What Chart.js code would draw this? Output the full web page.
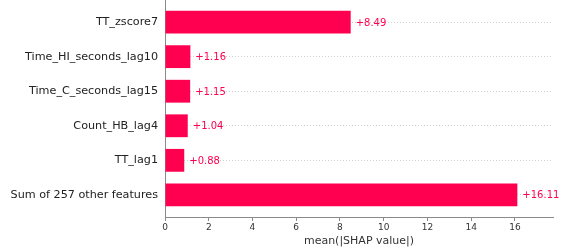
<!DOCTYPE html>
<html>
<head>
<meta charset="utf-8">
<script src="https://cdn.jsdelivr.net/npm/chart.js@4/dist/chart.umd.min.js"></script>
<style>
  html, body { margin: 0; padding: 0; background: #fff; }
  #wrap { width: 562px; height: 248px; }
</style>
</head>
<body>
<div id="wrap"><canvas id="shap"></canvas></div>
<script>
// feature names, top to bottom
const features = [
  "TT_zscore7",
  "Time_HI_seconds_lag10",
  "Time_C_seconds_lag15",
  "Count_HB_lag4",
  "TT_lag1",
  "Sum of 257 other features",
];
// mean(|SHAP value|) per feature
const shapValues = [8.49, 1.16, 1.15, 1.04, 0.88, 16.11];
// x axis ticks
const xTicks = [0, 2, 4, 6, 8, 10, 12, 14, 16];

const RED = "#ff0051";
const FONT = "'DejaVu Sans', sans-serif";

// writes "+8.49" etc just right of each bar end
const valueLabels = {
  id: "valueLabels",
  afterDatasetsDraw(chart) {
    const { ctx, scales } = chart;
    ctx.save();
    ctx.font = "10px " + FONT;
    ctx.fillStyle = RED;
    ctx.textAlign = "left";
    ctx.textBaseline = "middle";
    shapValues.forEach(function (v, i) {
      const x = scales.x.getPixelForValue(v) + 5;
      const y = scales.y.getPixelForValue(i);
      ctx.fillText("+" + v.toFixed(2), x, y + 1);
    });
    ctx.restore();
  },
};

new Chart(document.getElementById("shap"), {
  type: "bar",
  data: {
    datasets: [
      {
        data: shapValues.map(function (v, i) {
          return { x: v, y: i };
        }),
        backgroundColor: RED,
        borderWidth: 0,
        barPercentage: 0.66,
        categoryPercentage: 1,
      },
    ],
  },
  options: {
    indexAxis: "y",
    responsive: true,
    maintainAspectRatio: false,
    animation: false,
    layout: { padding: { top: 0, right: 9, bottom: 0, left: 0 } },
    plugins: { legend: { display: false }, tooltip: { enabled: false } },
    scales: {
      x: {
        type: "linear",
        min: 0,
        max: 17.74,
        afterBuildTicks: function (scale) {
          scale.ticks = xTicks.map(function (v) { return { value: v }; });
        },
        afterFit: function (scale) { scale.height = 31; },
        grid: { drawOnChartArea: false, drawTicks: true, tickLength: 4, color: "#8a8a8a" },
        border: { display: true, color: "#8a8a8a", width: 1 },
        ticks: { font: { family: FONT, size: 9 }, color: "#333", padding: 1, maxRotation: 0 },
        title: {
          display: true,
          text: "mean(|SHAP value|)",
          font: { family: FONT, size: 11 },
          color: "#333",
          padding: { top: 0, bottom: 0 },
        },
      },
      y: {
        type: "linear",
        reverse: true,
        offset: false,
        min: -0.64,
        max: 5.64,
        afterBuildTicks: function (scale) {
          scale.ticks = features.map(function (f, i) { return { value: i }; });
        },
        afterFit: function (scale) {
          scale.width = 165;
          scale.paddingTop = 0;
          scale.paddingBottom = 0;
        },
        grid: { offset: false, drawTicks: false, color: "#d0d0d0", lineWidth: 1 },
        border: { display: true, color: "#8a8a8a", width: 1, dash: [1, 2] },
        ticks: {
          font: { family: FONT, size: 11.2 },
          color: "#222",
          padding: 7,
          callback: function (value) { return features[value]; },
        },
      },
    },
  },
  plugins: [valueLabels],
});
</script>
</body>
</html>
